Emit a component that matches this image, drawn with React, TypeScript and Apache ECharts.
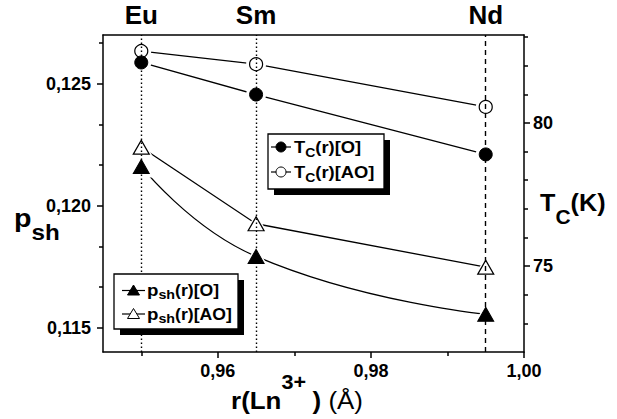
import React, { useEffect, useRef } from 'react';
import * as echarts from 'echarts';

// Ionic radii r(Ln3+) in Å and the corresponding lanthanides
const radii = [0.95, 0.965, 0.995];
const ions = ['Eu', 'Sm', 'Nd'];

// Critical temperature Tc (K), right axis
const tcO = [82.11, 80.99, 78.9];
const tcAO = [82.51, 82.05, 80.56];

// Hole concentration p_sh, left axis
const pshO = [0.12161, 0.11792, 0.11555];
const pshAO = [0.1224, 0.11926, 0.11748];

// Tick positions
const xTicks = [0.96, 0.98, 1.0];
const xMinorTicks = [0.95, 0.97, 0.99];
const pTicks = [0.115, 0.12, 0.125];
const pMinorTicks = [0.116667, 0.118333, 0.121667, 0.123333, 0.126667];
const tTicks = [75, 80];
const tMinorTicks = [73, 74, 76, 77, 78, 79, 81, 82, 83];

const FONT = 'Liberation Sans, Arial, Helvetica, sans-serif';
const BLACK = '#000';

let measureCtx: CanvasRenderingContext2D | null = null;
function measure(text: string, size: number, weight: string) {
  if (!measureCtx) measureCtx = document.createElement('canvas').getContext('2d');
  if (!measureCtx) return text.length * size * 0.6;
  measureCtx.font = `${weight} ${size}px ${FONT}`;
  return measureCtx.measureText(text).width;
}

type Part = { t: string; size: number; dy?: number; weight?: string; gap?: number };

// A run of text fragments sharing one baseline (with sub/superscript offsets)
function textRun(parts: Part[], x: number, baseline: number, align: 'left' | 'center', scaleX = 1, z = 110) {
  const widths = parts.map((p) => measure(p.t, p.size, p.weight || 'bold') + (p.gap || 0));
  const total = widths.reduce((a, b) => a + b, 0);
  let cx = align === 'center' ? -total / 2 : 0;
  const children = parts.map((p, i) => {
    const el = {
      type: 'text',
      z,
      x: cx,
      y: (p.dy || 0) - 0.35 * p.size,
      style: {
        text: p.t,
        font: `${p.weight || 'bold'} ${p.size}px ${FONT}`,
        fill: BLACK,
        align: 'left',
        verticalAlign: 'middle',
        textAlign: 'left',
        textVerticalAlign: 'middle',
      },
    };
    cx += widths[i];
    return el;
  });
  return { type: 'group', x, y: baseline, scaleX, z, children };
}

function legendBox(x: number, y: number, w: number, h: number) {
  return [
    { type: 'rect', z: 100, shape: { x: x + 6, y: y + 6, width: w, height: h }, style: { fill: BLACK } },
    {
      type: 'rect',
      z: 101,
      shape: { x, y, width: w, height: h },
      style: { fill: '#fff', stroke: BLACK, lineWidth: 1.3 },
    },
  ];
}

function legendLine(x1: number, x2: number, y: number) {
  return { type: 'line', z: 102, shape: { x1, y1: y, x2, y2: y }, style: { stroke: BLACK, lineWidth: 1.2 } };
}

function legendCircle(cx: number, cy: number, filled: boolean) {
  return {
    type: 'circle',
    z: 103,
    shape: { cx, cy, r: 5 },
    style: { fill: filled ? BLACK : '#fff', stroke: BLACK, lineWidth: 1 },
  };
}

function legendTriangle(cx: number, cy: number, filled: boolean) {
  return {
    type: 'polygon',
    z: 103,
    shape: {
      points: [
        [cx, cy - 5.5],
        [cx + 6, cy + 4.5],
        [cx - 6, cy + 4.5],
      ],
    },
    style: { fill: filled ? BLACK : '#fff', stroke: BLACK, lineWidth: 1 },
  };
}

const labelFont = { color: BLACK, fontWeight: 'bold' as const, fontSize: 18, fontFamily: FONT };
const axisLineStyle = { color: BLACK, width: 1.5 };

function pairs(ys: number[]) {
  return radii.map((r, i) => [r, ys[i]]);
}

function buildOption(): echarts.EChartsOption {
  const lineBase = {
    type: 'line' as const,
    showSymbol: false,
    symbol: 'none',
    z: 2,
    silent: true,
    lineStyle: { color: BLACK, width: 1.3 },
  };
  const haloBase = {
    type: 'scatter' as const,
    z: 3,
    silent: true,
    itemStyle: { color: '#fff', borderWidth: 0, opacity: 1 },
  };
  const markBase = {
    type: 'scatter' as const,
    z: 7,
    silent: true,
  };
  const filled = { color: BLACK, borderColor: BLACK, borderWidth: 1, opacity: 1 };
  const open = { color: 'rgba(0,0,0,0)', borderColor: BLACK, borderWidth: 1.2, opacity: 1 };
  const circleSize = 13;
  const triSize = [16, 14];

  const graphics: any[] = [
    // axis titles
    textRun([{ t: 'p', size: 26 }, { t: 'sh', size: 22, dy: 13 }], 14, 227, 'left', 1.1),
    textRun(
      [
        { t: 'T', size: 24 },
        { t: 'C', size: 20, dy: 13 },
        { t: '(K)', size: 24 },
      ],
      540,
      211,
      'left',
      1.05
    ),
    textRun(
      [
        { t: 'r(Ln', size: 24 },
        { t: '3+', size: 20, dy: -20, gap: 6 },
        { t: ')', size: 24 },
        { t: ' (Å)', size: 24, weight: 'normal' },
      ],
      297,
      409,
      'center',
      1.08
    ),
    // Tc legend
    ...legendBox(268, 134, 116, 55),
    legendLine(271, 291, 147),
    legendCircle(281, 147, true),
    legendLine(271, 291, 172),
    legendCircle(281, 172, false),
    textRun(
      [
        { t: 'T', size: 17 },
        { t: 'C', size: 13, dy: 4 },
        { t: '(r)[O]', size: 17 },
      ],
      294,
      153,
      'left',
      1.08
    ),
    textRun(
      [
        { t: 'T', size: 17 },
        { t: 'C', size: 13, dy: 4 },
        { t: '(r)[AO]', size: 17 },
      ],
      294,
      178,
      'left',
      1.08
    ),
    // p_sh legend
    ...legendBox(114, 274, 124, 55),
    legendLine(122, 145, 290.5),
    legendTriangle(133.5, 290.5, true),
    legendLine(122, 145, 314),
    legendTriangle(133.5, 314, false),
    textRun(
      [
        { t: 'p', size: 17 },
        { t: 'sh', size: 13, dy: 3 },
        { t: '(r)[O]', size: 16 },
      ],
      147,
      296,
      'left',
      1.1
    ),
    textRun(
      [
        { t: 'p', size: 17 },
        { t: 'sh', size: 13, dy: 3 },
        { t: '(r)[AO]', size: 16 },
      ],
      147,
      320,
      'left',
      1.1
    ),
  ];

  return {
    animation: false,
    backgroundColor: '#fff',
    textStyle: { fontFamily: FONT },
    grid: { left: 103, top: 35, width: 421, height: 317, outerBoundsMode: 'none' } as any,
    xAxis: [
      {
        type: 'value',
        position: 'bottom',
        min: 0.945,
        max: 1.0,
        axisLine: { show: true, onZero: false, lineStyle: axisLineStyle },
        axisTick: { show: true, inside: false, length: 6, customValues: xTicks, lineStyle: axisLineStyle } as any,
        axisLabel: {
          customValues: xTicks,
          margin: 10,
          formatter: (v: number) => v.toFixed(2).replace('.', ','),
          ...labelFont,
        } as any,
        splitLine: { show: false },
      },
      {
        type: 'value',
        position: 'bottom',
        min: 0.945,
        max: 1.0,
        axisLine: { show: false, onZero: false },
        axisTick: { show: true, inside: false, length: 4, customValues: xMinorTicks, lineStyle: axisLineStyle } as any,
        axisLabel: { show: false },
        splitLine: { show: false },
      },
      {
        type: 'value',
        position: 'top',
        min: 0.945,
        max: 1.0,
        axisLine: { show: true, onZero: false, lineStyle: axisLineStyle },
        axisTick: { show: false },
        axisLabel: {
          customValues: radii,
          margin: 7,
          formatter: (v: number) => ions[radii.findIndex((r) => Math.abs(r - v) < 1e-6)] || '',
          color: BLACK,
          fontWeight: 'bold',
          fontSize: 26,
          fontFamily: FONT,
        } as any,
        splitLine: { show: false },
      },
    ],
    yAxis: [
      {
        type: 'value',
        position: 'left',
        min: 0.114,
        max: 0.127,
        axisLine: { show: true, onZero: false, lineStyle: axisLineStyle },
        axisTick: { show: true, inside: false, length: 6, customValues: pTicks, lineStyle: axisLineStyle } as any,
        axisLabel: {
          customValues: pTicks,
          margin: 12,
          formatter: (v: number) => v.toFixed(3).replace('.', ','),
          ...labelFont,
        } as any,
        splitLine: { show: false },
      },
      {
        type: 'value',
        position: 'right',
        min: 72,
        max: 83.07,
        axisLine: { show: true, onZero: false, lineStyle: axisLineStyle },
        axisTick: { show: true, inside: false, length: 6, customValues: tTicks, lineStyle: axisLineStyle } as any,
        axisLabel: { customValues: tTicks, margin: 9, formatter: (v: number) => String(v), ...labelFont } as any,
        splitLine: { show: false },
      },
      {
        type: 'value',
        position: 'left',
        min: 0.114,
        max: 0.127,
        axisLine: { show: false, onZero: false },
        axisTick: { show: true, inside: false, length: 4, customValues: pMinorTicks, lineStyle: axisLineStyle } as any,
        axisLabel: { show: false },
        splitLine: { show: false },
      },
      {
        type: 'value',
        position: 'right',
        min: 72,
        max: 83.07,
        axisLine: { show: false, onZero: false },
        axisTick: { show: true, inside: false, length: 4, customValues: tMinorTicks, lineStyle: axisLineStyle } as any,
        axisLabel: { show: false },
        splitLine: { show: false },
      },
    ],
    series: [
      {
        ...lineBase,
        name: 'psh[O] line',
        yAxisIndex: 0,
        smooth: 0.5,
        data: pairs(pshO),
        markLine: {
          silent: true,
          precision: 4,
          symbol: ['none', 'none'],
          label: { show: false },
          z: 5,
          lineStyle: { color: BLACK, width: 1.4 },
          data: radii.map((r, i) => ({
            xAxis: r,
            lineStyle: { color: BLACK, width: 1.4, type: i === 2 ? [5, 4] : [1.5, 2.5] },
          })) as any,
        },
      },
      { ...lineBase, name: 'psh[AO] line', yAxisIndex: 0, data: pairs(pshAO) },
      { ...lineBase, name: 'Tc[O] line', yAxisIndex: 1, data: pairs(tcO) },
      { ...lineBase, name: 'Tc[AO] line', yAxisIndex: 1, data: pairs(tcAO) },
      { ...haloBase, yAxisIndex: 0, symbol: 'triangle', symbolSize: [25, 22], data: pairs(pshO) },
      { ...haloBase, yAxisIndex: 0, symbol: 'triangle', symbolSize: [25, 22], data: pairs(pshAO) },
      { ...haloBase, yAxisIndex: 1, symbol: 'circle', symbolSize: 20, data: pairs(tcO) },
      { ...haloBase, yAxisIndex: 1, symbol: 'circle', symbolSize: 20, data: pairs(tcAO) },
      { ...markBase, name: 'psh(r)[O]', yAxisIndex: 0, symbol: 'triangle', symbolSize: triSize, itemStyle: filled, data: pairs(pshO) },
      { ...markBase, name: 'psh(r)[AO]', yAxisIndex: 0, symbol: 'triangle', symbolSize: triSize, itemStyle: open, data: pairs(pshAO) },
      { ...markBase, name: 'Tc(r)[O]', yAxisIndex: 1, symbol: 'circle', symbolSize: circleSize, itemStyle: filled, data: pairs(tcO) },
      { ...markBase, name: 'Tc(r)[AO]', yAxisIndex: 1, symbol: 'circle', symbolSize: circleSize, itemStyle: open, data: pairs(tcAO) },
    ] as any,
    graphic: { elements: graphics },
  };
}

export default function App() {
  const ref = useRef<HTMLDivElement>(null);
  useEffect(() => {
    if (!ref.current) return;
    const chart = echarts.init(ref.current, undefined, { renderer: 'svg' });
    chart.setOption(buildOption());
    return () => chart.dispose();
  }, []);
  return (
    <div
      ref={ref}
      style={{ position: 'fixed', left: 0, top: 0, width: 617, height: 419, background: '#fff' }}
    />
  );
}
